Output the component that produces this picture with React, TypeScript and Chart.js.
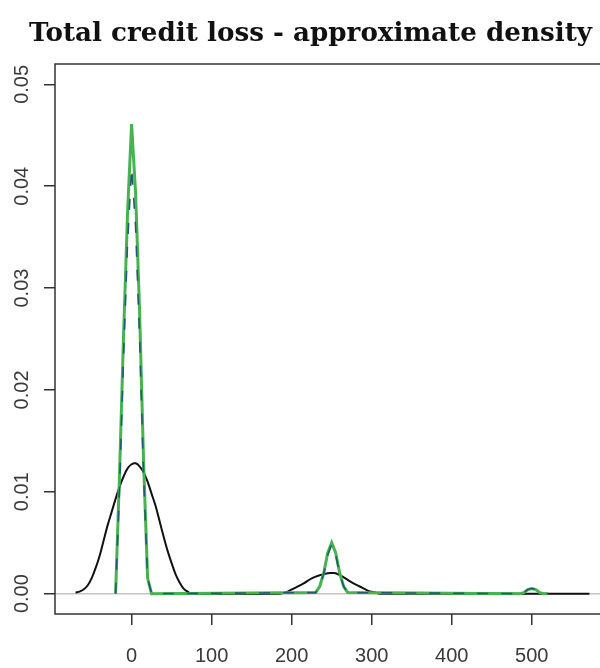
import { useEffect, useRef } from 'react';
import { Chart, registerables } from 'chart.js';

Chart.register(...registerables);

const titleText = 'Total credit loss - approximate density';
const xTicks = [0, 100, 200, 300, 400, 500];
const yTicks = [0, 0.01, 0.02, 0.03, 0.04, 0.05];
const xMin = -95.7;
const xMax = 597.7;
const yMin = -0.002;
const yMax = 0.052;

// black: normal approximation
const blackX = [-70, -65, -60, -55, -50, -45, -40, -35, -30, -25, -20, -15, -10, -5, 0, 5, 10, 15, 20, 25, 30, 35, 40, 45, 50, 55, 60, 65, 70, 75, 185, 195, 205, 215, 225, 235, 245, 250, 255, 265, 275, 285, 295, 305, 310, 572];
const blackY = [0.0001, 0.0002, 0.0004, 0.0008, 0.0015, 0.0025, 0.0037, 0.0052, 0.0067, 0.008, 0.0093, 0.0105, 0.0115, 0.0123, 0.0127, 0.0128, 0.0125, 0.0119, 0.011, 0.0098, 0.0086, 0.0071, 0.0056, 0.0042, 0.003, 0.0019, 0.0011, 0.0005, 0.0002, 0, 0, 0.0002, 0.0006, 0.001, 0.0015, 0.0018, 0.002, 0.00202, 0.002, 0.0016, 0.0011, 0.0007, 0.0003, 0.0001, 0, 0];

// green: exact density
const greenX = [-20, -15, -10, -5, 0, 5, 10, 15, 20, 25, 230, 235, 240, 245, 250, 255, 260, 265, 270, 485, 490, 495, 500, 505, 510, 515, 520];
const greenY = [0, 0.0119, 0.0255, 0.0375, 0.0461, 0.0393, 0.0277, 0.0128, 0.0015, 0, 0.0001, 0.0007, 0.002, 0.004, 0.005, 0.004, 0.002, 0.0007, 0.0001, 0, 0.0001, 0.0004, 0.0005, 0.0004, 0.0001, 0, 0];

// blue dashed: second approximation
const blueX = [-20, -15, -10, -5, 0, 5, 10, 15, 20, 25, 230, 235, 240, 245, 250, 255, 260, 265, 270, 485, 490, 495, 500, 505, 510, 515, 520];
const blueY = [0, 0.0105, 0.0235, 0.0345, 0.0418, 0.036, 0.025, 0.0115, 0.0015, 0, 0.0001, 0.0007, 0.0019, 0.0038, 0.0048, 0.0038, 0.0019, 0.0007, 0.0001, 0, 0.0001, 0.0004, 0.0005, 0.0004, 0.0001, 0, 0];

const tickFont = { family: '"Liberation Sans", Arial, sans-serif', size: 20 };
const titleFontFamily = '"DejaVu Serif", "Liberation Serif", serif';

const decorPlugin = {
  id: 'decor',
  beforeDatasetsDraw(chart: any) {
    const { ctx, chartArea, scales } = chart;
    const y0 = scales.y.getPixelForValue(0);
    ctx.save();
    ctx.strokeStyle = '#c4c4c4';
    ctx.lineWidth = 1.5;
    ctx.beginPath();
    ctx.moveTo(chartArea.left, y0);
    ctx.lineTo(chartArea.right, y0);
    ctx.stroke();
    ctx.restore();
  },
  afterDraw(chart: any) {
    const { ctx, chartArea } = chart;
    ctx.save();
    ctx.strokeStyle = '#333';
    ctx.lineWidth = 1.5;
    ctx.strokeRect(chartArea.left, chartArea.top, chartArea.right - chartArea.left, chartArea.bottom - chartArea.top);
    ctx.fillStyle = '#111';
    ctx.font = 'bold 24px ' + titleFontFamily;
    const w = ctx.measureText(titleText).width;
    const size = Math.min(30, (24 * 563) / w);
    ctx.font = 'bold ' + size.toFixed(2) + 'px ' + titleFontFamily;
    ctx.textAlign = 'center';
    ctx.textBaseline = 'alphabetic';
    ctx.fillText(titleText, 310.5, 41);
    ctx.restore();
  },
};

export default function App() {
  const ref = useRef<HTMLCanvasElement>(null);
  useEffect(() => {
    const canvas = ref.current!;
    const pts = (xs: number[], ys: number[]) => xs.map((x, i) => ({ x, y: ys[i] }));
    const chart = new Chart(canvas, {
      type: 'line',
      data: {
        datasets: [
          { label: 'approx 2', data: pts(blueX, blueY), borderColor: '#235a70', borderWidth: 1.6, borderDash: [11, 13], pointRadius: 0, tension: 0 },
          { label: 'exact', data: pts(greenX, greenY), borderColor: '#45b34e', borderWidth: 3, pointRadius: 0, tension: 0 },
          { label: 'normal', data: pts(blackX, blackY), borderColor: '#111', borderWidth: 2, pointRadius: 0, tension: 0.35 },
        ],
      } as any,
      options: {
        responsive: false,
        animation: false,
        devicePixelRatio: 1,
        layout: { padding: { top: 64, right: 10, left: 0, bottom: 0 } },
        plugins: { legend: { display: false }, tooltip: { enabled: false }, title: { display: false } },
        scales: {
          x: {
            type: 'linear',
            min: xMin,
            max: xMax,
            afterBuildTicks: (s: any) => { s.ticks = xTicks.map((v) => ({ value: v })); },
            afterFit: (s: any) => { s.height = 54; },
            grid: { display: true, drawOnChartArea: false, drawTicks: true, tickLength: 11, color: '#333', lineWidth: 1.5 },
            border: { display: false },
            ticks: { font: tickFont, color: '#3a3a3a', padding: 19, minRotation: 0, maxRotation: 0, autoSkip: false, callback: (v: any) => String(v) },
          },
          y: {
            type: 'linear',
            min: yMin,
            max: yMax,
            afterBuildTicks: (s: any) => { s.ticks = yTicks.map((v) => ({ value: v })); },
            afterFit: (s: any) => { s.width = 55; },
            grid: { display: true, drawOnChartArea: false, drawTicks: true, tickLength: 11, color: '#333', lineWidth: 1.5 },
            border: { display: false },
            ticks: { font: tickFont, color: '#3a3a3a', padding: 2, minRotation: 90, maxRotation: 90, crossAlign: 'center', autoSkip: false, callback: (v: any) => Number(v).toFixed(2) },
          },
        },
      } as any,
      plugins: [decorPlugin],
    });
    return () => chart.destroy();
  }, []);
  return (
    <div style={{ position: 'fixed', left: 0, top: 0, width: 600, height: 668, overflow: 'hidden', background: '#fff' }}>
      <canvas ref={ref} width={620} height={668} style={{ display: 'block' }} />
    </div>
  );
}
